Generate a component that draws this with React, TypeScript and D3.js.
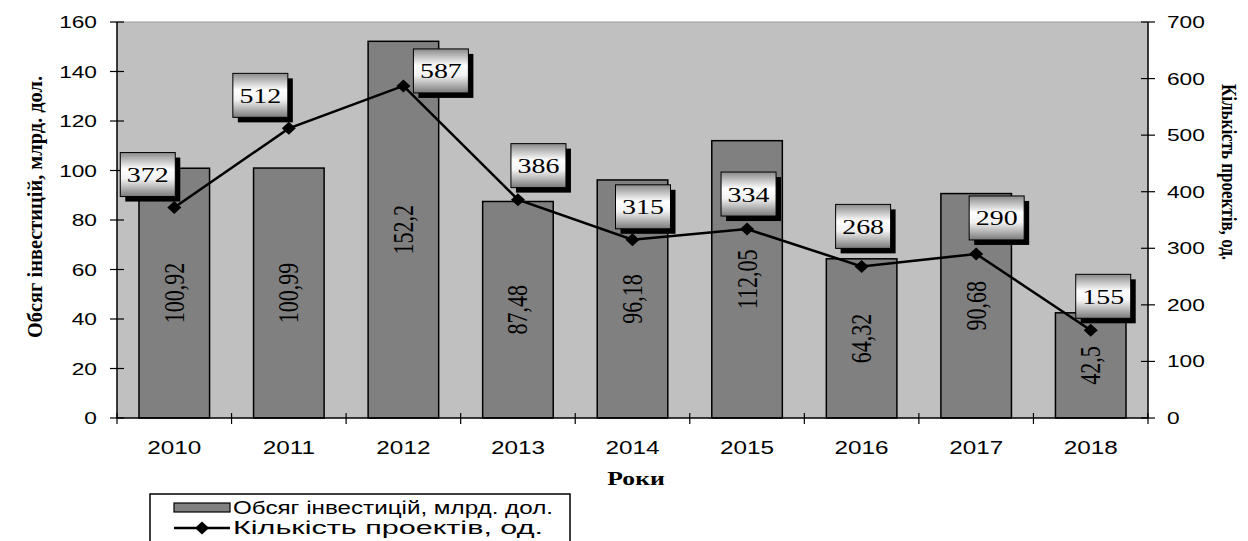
import React from "react";
import * as d3 from "d3";

const years = ["2010", "2011", "2012", "2013", "2014", "2015", "2016", "2017", "2018"];
const investment = [100.92, 100.99, 152.2, 87.48, 96.18, 112.05, 64.32, 90.68, 42.5];
const projects = [372, 512, 587, 386, 315, 334, 268, 290, 155];
const leftTicks = [0, 20, 40, 60, 80, 100, 120, 140, 160];
const rightTicks = [0, 100, 200, 300, 400, 500, 600, 700];
const leftTitle = "Обсяг інвестицій, млрд. дол.";
const rightTitle = "Кількість проектів, од.";
const xTitle = "Роки";
const legendBarText = "Обсяг інвестицій, млрд. дол.";
const legendLineText = "Кількість проектів, од.";

// manual placement of the count labels (box top-left relative to the point), as in the reference
const boxShift: [number, number][] = [
  [-54, -55], [-56, -55], [10, -37], [-7, -56], [-17, -55], [-26, -57], [-26, -62], [-7, -58], [-15, -56],
];

const W = 1248, H = 541;
const L = 117, R = 1148, T = 22, B = 418;

const SANS = "'Liberation Sans', Arial, sans-serif";
const SERIF = "'Liberation Serif', 'Times New Roman', serif";

export default function App() {
  const x = d3.scaleBand<string>().domain(years).range([L, R]).paddingInner(0.384).paddingOuter(0.192);
  const step = (R - L) / years.length;
  const yL = d3.scaleLinear().domain([0, 160]).range([B, T]);
  const yR = d3.scaleLinear().domain([0, 700]).range([B, T]);
  const cx = (d: string) => (x(d) as number) + x.bandwidth() / 2;
  const line = d3.line<number>().x((_, i) => cx(years[i])).y((d) => yR(d));
  const diamond = (px: number, py: number) =>
    `M${px},${py - 6.5}L${px + 7},${py}L${px},${py + 6.5}L${px - 7},${py}Z`;
  const boxW = 55, boxH = 44;

  return (
    <svg width={W} height={H} style={{ position: "absolute", left: 0, top: 0, background: "#fff" }}>
      <defs>
        <linearGradient id="boxGrad" x1="0" y1="0" x2="0" y2="1">
          <stop offset="0" stopColor="#8a8a8a" />
          <stop offset="0.38" stopColor="#ffffff" />
          <stop offset="0.6" stopColor="#f2f2f2" />
          <stop offset="1" stopColor="#7a7a7a" />
        </linearGradient>
      </defs>
      {/* plot background */}
      <rect x={L} y={T} width={R - L} height={B - T} fill="#c0c0c0" />
      <line x1={L} x2={R} y1={T} y2={T} stroke="#9a9a9a" strokeWidth={1} />

      {/* bars */}
      {investment.map((v, i) => (
        <rect key={"b" + i} x={x(years[i])} y={yL(v)} width={x.bandwidth()} height={B - yL(v)}
          fill="#808080" stroke="#000" strokeWidth={1.5} />
      ))}
      {/* bar value labels */}
      {investment.map((v, i) => (
        <text key={"bl" + i} transform={`translate(${cx(years[i]) + 9.5},${(yL(v) + B) / 2}) scale(1.3,1) rotate(-90)`}
          textAnchor="middle" fontFamily={SERIF} fontSize={22} fill="#000">
          {String(v).replace(".", ",")}
        </text>
      ))}

      {/* axes */}
      <line x1={L} x2={L} y1={T} y2={B} stroke="#000" strokeWidth={1.5} />
      <line x1={R} x2={R} y1={T} y2={B} stroke="#000" strokeWidth={1.5} />
      <line x1={L} x2={R} y1={B} y2={B} stroke="#000" strokeWidth={1.5} />
      {leftTicks.map((t) => (
        <g key={"lt" + t}>
          <line x1={L - 7} x2={L + 7} y1={yL(t)} y2={yL(t)} stroke="#000" strokeWidth={1.2} />
          <text transform={`translate(97,${yL(t) + 6}) scale(1.42,1)`} textAnchor="end"
            fontFamily={SANS} fontSize={16} fill="#000">{t}</text>
        </g>
      ))}
      {rightTicks.map((t) => (
        <g key={"rt" + t}>
          <line x1={R - 7} x2={R + 7} y1={yR(t)} y2={yR(t)} stroke="#000" strokeWidth={1.2} />
          <text transform={`translate(1167,${yR(t) + 6}) scale(1.42,1)`} textAnchor="start"
            fontFamily={SANS} fontSize={16} fill="#000">{t}</text>
        </g>
      ))}
      {d3.range(years.length + 1).map((i) => (
        <line key={"xt" + i} x1={L + i * step} x2={L + i * step} y1={B - 5} y2={B + 6} stroke="#000" strokeWidth={1.2} />
      ))}
      {years.map((yv) => (
        <text key={"xl" + yv} transform={`translate(${cx(yv)},454) scale(1.35,1)`} textAnchor="middle"
          fontFamily={SANS} fontSize={18} fill="#000">{yv}</text>
      ))}

      {/* line series */}
      <path d={line(projects) || ""} fill="none" stroke="#000" strokeWidth={2.5} />
      {projects.map((p, i) => (
        <path key={"m" + i} d={diamond(cx(years[i]), yR(p))} fill="#000" />
      ))}

      {/* count label boxes */}
      {projects.map((p, i) => {
        const bx = cx(years[i]) + boxShift[i][0];
        const by = yR(p) + boxShift[i][1];
        return (
          <g key={"lb" + i}>
            <rect x={bx + 5} y={by + 5} width={boxW} height={boxH} fill="#000" />
            <rect x={bx} y={by} width={boxW} height={boxH} fill="url(#boxGrad)" stroke="#000" strokeWidth={1} />
            <text transform={`translate(${bx + boxW / 2},${by + boxH / 2 + 7.5}) scale(1.27,1)`} textAnchor="middle"
              fontFamily={SERIF} fontSize={22} fill="#000">{p}</text>
          </g>
        );
      })}

      {/* axis titles */}
      <text transform="translate(42,207) rotate(-90)" textAnchor="middle" fontFamily={SERIF} fontWeight="bold"
        fontSize={22} textLength={262} lengthAdjust="spacingAndGlyphs" fill="#000">{leftTitle}</text>
      <text transform="translate(1222,172) rotate(90)" textAnchor="middle" fontFamily={SERIF} fontWeight="bold"
        fontSize={22} textLength={176} lengthAdjust="spacingAndGlyphs" fill="#000">{rightTitle}</text>
      <text transform="translate(636,485) scale(1.35,1)" textAnchor="middle" fontFamily={SERIF} fontWeight="bold"
        fontSize={19} fill="#000">{xTitle}</text>

      {/* legend */}
      <rect x={150} y={494} width={420} height={60} fill="#fff" stroke="#000" strokeWidth={1.5} />
      <rect x={174} y={503} width={56} height={9} fill="#808080" stroke="#000" strokeWidth={1.2} />
      <text x={233} y={514} fontFamily={SANS} fontSize={17.5} textLength={320} lengthAdjust="spacingAndGlyphs" fill="#000">
        {legendBarText}
      </text>
      <line x1={174} x2={230} y1={528} y2={528} stroke="#000" strokeWidth={2.5} />
      <path d={diamond(202, 528)} fill="#000" />
      <text x={233} y={534} fontFamily={SANS} fontSize={17.5} textLength={310} lengthAdjust="spacingAndGlyphs" fill="#000">
        {legendLineText}
      </text>
    </svg>
  );
}
